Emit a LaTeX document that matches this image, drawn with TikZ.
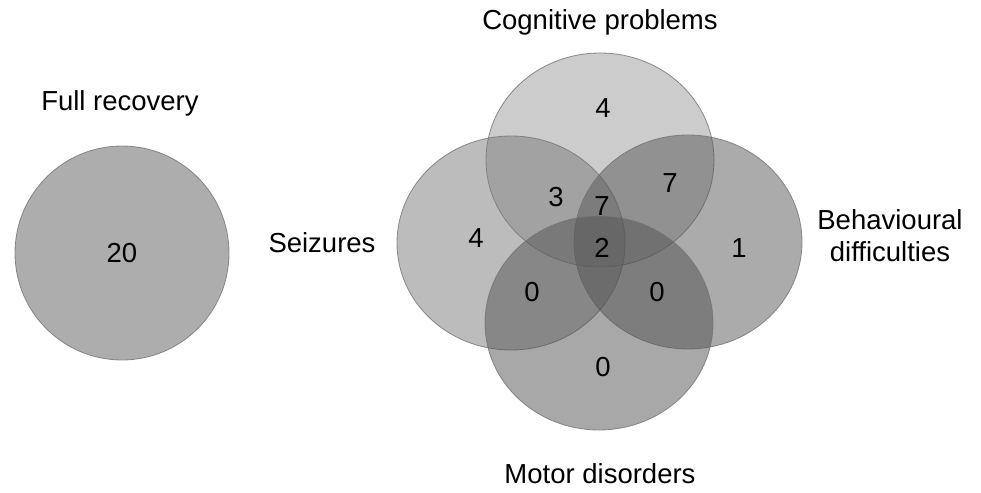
\documentclass[tikz,border=0pt]{standalone}
\usepackage{fontspec}
\setmainfont{Liberation Sans}
\begin{document}
\begin{tikzpicture}[x=1pt,y=-1pt,
  set/.style={draw=black!55,line width=0.8pt,fill opacity=0.5,draw opacity=0.8},
  txt/.style={font=\fontsize{27.5}{32}\selectfont,inner sep=0pt,align=center},
  num/.style={txt}]
\useasboundingbox (0,0) rectangle (981,492);

% full recovery
\draw[set,fill=black!64] (122,253) circle (107);
\node[num] (n20) at (122,253) {20};
\node[txt] (full) at (120,103) {Full recovery};

% the four sets
\draw[set,fill=black!40] (600,160) ellipse (114 and 107);
\draw[set,fill=black!52] (511,243) ellipse (114 and 107);
\draw[set,fill=black!66] (688,242) ellipse (114 and 107);
\draw[set,fill=black!68] (599,323) ellipse (114 and 107);

\node[txt] (cog) at (600,22) {Cognitive problems};
\node[txt] (seiz) at (322,243) {Seizures};
\node[txt] (beh) at (890,236) {Behavioural\\difficulties};
\node[txt] (mot) at (600,474) {Motor disorders};

\node[num] (c) at (603,108) {4};
\node[num] (cs) at (556,197) {3};
\node[num] (csb) at (602,206) {7};
\node[num] (cb) at (670,183) {7};
\node[num] (s) at (476,238) {4};
\node[num] (all) at (602,248) {2};
\node[num] (b) at (739,248) {1};
\node[num] (sm) at (532,292) {0};
\node[num] (bm) at (657,292) {0};
\node[num] (m) at (603,367) {0};
\end{tikzpicture}
\end{document}
